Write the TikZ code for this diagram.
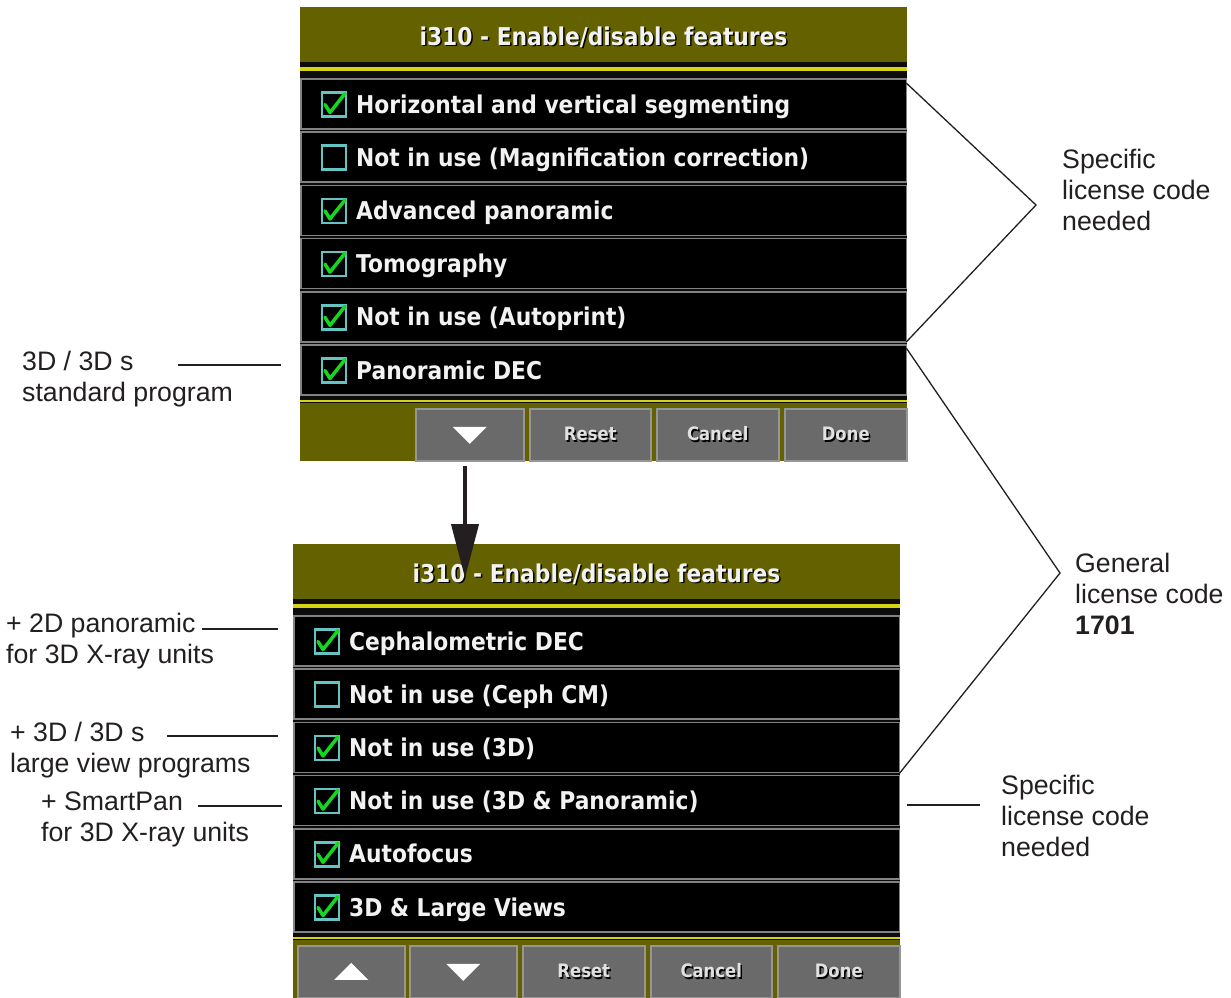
\documentclass[tikz,border=0pt]{standalone}
\usepackage{fontspec}
\setmainfont{Liberation Sans}
\newfontfamily\scr[FakeStretch=0.89]{DejaVu Sans}
\usetikzlibrary{arrows.meta}
\definecolor{olivebar}{RGB}{99,97,0}
\definecolor{yel}{RGB}{214,210,20}
\definecolor{rowgrey}{RGB}{130,130,130}
\definecolor{btngrey}{RGB}{106,106,106}
\definecolor{btnedge}{RGB}{150,150,150}
\definecolor{btntext}{RGB}{225,225,225}
\definecolor{tealbox}{RGB}{100,196,196}
\definecolor{chkgreen}{RGB}{20,215,30}
\definecolor{scrwhite}{RGB}{242,242,242}
\definecolor{ink}{RGB}{35,31,32}
\definecolor{darkband}{RGB}{12,12,12}
\newcommand\shd[1]{\rlap{\hspace{1.5pt}\raisebox{-1.5pt}{\color{black}#1}}#1}
\begin{document}
\begin{tikzpicture}[x=1pt,y=-1pt,
  rowbox/.style={draw=rowgrey, fill=black, line width=1.5pt, minimum width=605.5pt, minimum height=50pt, inner sep=0pt, outer sep=0pt, anchor=north west},
  rowtext/.style={font=\scr\bfseries\fontsize{24.5}{28}\selectfont, text=scrwhite, inner sep=0pt, anchor=base west},
  titletext/.style={font=\scr\bfseries\fontsize{24.5}{28}\selectfont, text=scrwhite, inner sep=0pt, anchor=base},
  btn/.style={fill=btngrey, draw=btnedge, line width=1.5pt, anchor=north west, inner sep=0pt, outer sep=0pt, minimum height=52pt, font=\scr\bfseries\fontsize{18.5}{20}\selectfont, text=btntext},
  boxline/.style={draw=tealbox, line width=2.5pt, fill=black},
  checkline/.style={draw=chkgreen, line width=3.5pt, line cap=round, line join=round},
  note/.style={font=\fontsize{26.7}{31}\selectfont, text=ink, align=left, inner sep=0pt, anchor=north west},
  lead/.style={draw=ink, line width=1.8pt},
  brk/.style={draw=ink, line width=1.3pt},
  bigarrow/.style={draw=ink, line width=4pt, -{Triangle[width=27pt,length=54pt]}, fill=ink}
]
\useasboundingbox[fill=white] (0,0) rectangle (1231,997);

% ---------- top panel ----------
\begin{scope}[shift={(300,7)}]
  \fill[darkband] (0,55) rectangle (607,396);
  \fill[olivebar] (0,0) rectangle (607,55);
  \fill[yel] (0,60) rectangle (607,64);
  \node[titletext] (ttitle) at (303.5,38) {\shd{i310 - Enable/disable features}};
  \foreach \i/\txt/\c in {0/Horizontal and vertical segmenting/1,
                           1/Not in use (Magnification correction)/0,
                           2/Advanced panoramic/1,
                           3/Tomography/1,
                           4/Not in use (Autoprint)/1,
                           5/Panoramic DEC/1}{
    \node[rowbox] (t\i) at (0.75,{72+53.2*\i}) {};
    \node[rowtext] (tt\i) at (56,{72+53.2*\i+34}) {\txt};
    \draw[boxline] (22,{72+53.2*\i+13.5}) rectangle (46,{72+53.2*\i+37.5});
    \ifnum\c=1
      \draw[checkline] (25,{72+53.2*\i+25.5}) -- (30,{72+53.2*\i+33.5}) -- (45,{72+53.2*\i+14.5});
    \fi
  }
  \fill[yel] (0,393) rectangle (607,394.5);
  \fill[olivebar] (0,396) rectangle (607,454);
  \node[btn, minimum width=108pt] (tdown) at (115.75,401.75) {};
  \node[btn, minimum width=121pt] (treset) at (229.75,401.75) {\shd{Reset}};
  \node[btn, minimum width=122pt] (tcancel) at (356.75,401.75) {\shd{Cancel}};
  \node[btn, minimum width=122pt] (tdone) at (484.75,401.75) {\shd{Done}};
  \fill[white] ([shift={(-17,-8)}]tdown.center) -- ([shift={(17,-8)}]tdown.center) -- ([shift={(0,9)}]tdown.center) -- cycle;
\end{scope}

% ---------- bottom panel ----------
\begin{scope}[shift={(293,544)}]
  \fill[darkband] (0,55) rectangle (607,396);
  \fill[olivebar] (0,0) rectangle (607,55);
  \fill[yel] (0,60) rectangle (607,64);
  \node[titletext] (btitle) at (303.5,38) {\shd{i310 - Enable/disable features}};
  \foreach \i/\txt/\c in {0/Cephalometric DEC/1,
                           1/Not in use (Ceph CM)/0,
                           2/Not in use (3D)/1,
                           3/Not in use (3D \& Panoramic)/1,
                           4/Autofocus/1,
                           5/3D \& Large Views/1}{
    \node[rowbox] (b\i) at (0.75,{72+53.2*\i}) {};
    \node[rowtext] (bt\i) at (56,{72+53.2*\i+34}) {\txt};
    \draw[boxline] (22,{72+53.2*\i+13.5}) rectangle (46,{72+53.2*\i+37.5});
    \ifnum\c=1
      \draw[checkline] (25,{72+53.2*\i+25.5}) -- (30,{72+53.2*\i+33.5}) -- (45,{72+53.2*\i+14.5});
    \fi
  }
  \fill[yel] (0,393) rectangle (607,394.5);
  \fill[olivebar] (0,396) rectangle (607,460);
  \node[btn, minimum width=107pt] (bup) at (4.75,401.75) {};
  \node[btn, minimum width=107pt] (bdown) at (116.75,401.75) {};
  \node[btn, minimum width=122pt] (breset) at (229.75,401.75) {\shd{Reset}};
  \node[btn, minimum width=121pt] (bcancel) at (357.75,401.75) {\shd{Cancel}};
  \node[btn, minimum width=122pt] (bdone) at (484.75,401.75) {\shd{Done}};
  \fill[white] ([shift={(-17,-8)}]bdown.center) -- ([shift={(17,-8)}]bdown.center) -- ([shift={(0,9)}]bdown.center) -- cycle;
  \fill[white] ([shift={(-17,8)}]bup.center) -- ([shift={(17,8)}]bup.center) -- ([shift={(0,-9)}]bup.center) -- cycle;
\end{scope}

% ---------- arrow between panels ----------
\coordinate (arrS) at (465,466);
\coordinate (arrE) at (465,578);
\draw[bigarrow] (arrS) -- (arrE);

% ---------- right annotations ----------
\node[note] (specA) at (1062,149) {Specific\\license code\\needed};
\node[note] (genB) at (1075,553) {General\\license code\\\textbf{1701}};
\node[note] (specC) at (1001,775) {Specific\\license code\\needed};
\coordinate (apexA) at (1036,205);
\coordinate (apexB) at (1060,573);
\draw[brk] ([yshift=-4pt]t0.north east) -- (apexA) -- ([yshift=3pt]t5.north east);
\draw[brk] ([yshift=-3pt]t5.north east) -- (apexB) -- ([yshift=2pt]b3.north east);
\coordinate (sCa) at (907,805);
\coordinate (sCb) at (980,805);
\draw[lead] (sCa) -- (sCb);

% ---------- left annotations ----------
\node[note] (n3d) at (22,351) {3D / 3D s\\standard program};
\node[note] (n2d) at (6,613) {+ 2D panoramic\\for 3D X-ray units};
\node[note] (n3dl) at (10,722) {+ 3D / 3D s\\large view programs};
\node[note] (nsp) at (41,792) {+ SmartPan\\for 3D X-ray units};
\coordinate (l1s) at (178,365); \coordinate (l1e) at (281,365);
\coordinate (l2s) at (202,629); \coordinate (l2e) at (278,629);
\coordinate (l3s) at (167,736); \coordinate (l3e) at (278,736);
\coordinate (l4s) at (198,806); \coordinate (l4e) at (282,806);
\draw[lead] (l1s) -- (l1e);
\draw[lead] (l2s) -- (l2e);
\draw[lead] (l3s) -- (l3e);
\draw[lead] (l4s) -- (l4e);
\end{tikzpicture}
\end{document}
